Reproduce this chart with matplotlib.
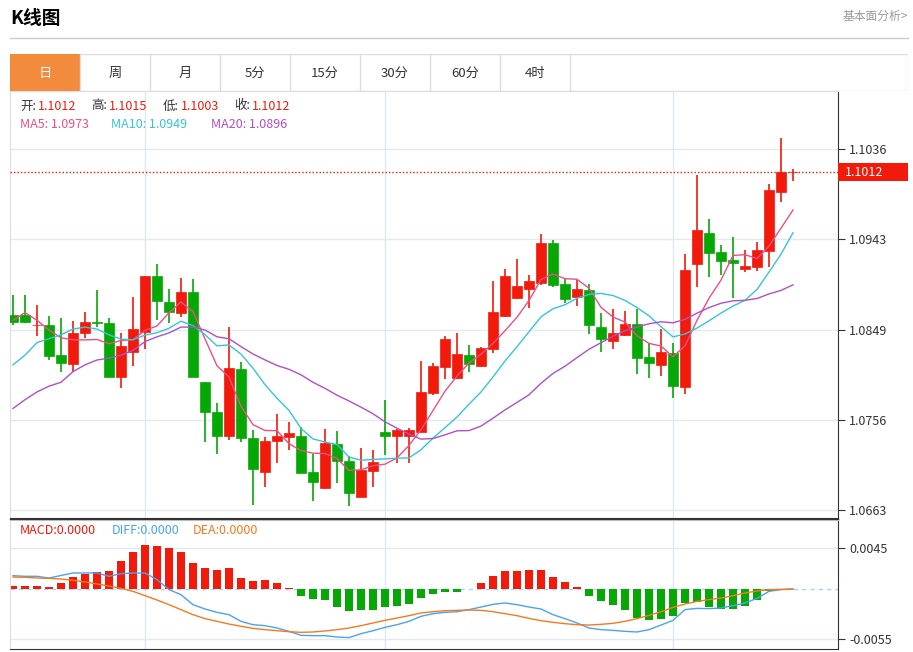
import numpy as np
import pandas as pd
import matplotlib.pyplot as plt
from matplotlib.patches import Rectangle

plt.rcParams['font.family'] = ['Noto Sans CJK SC', 'DejaVu Sans']

# 日K数据
opens = [1.0865, 1.0865, 1.0854, 1.0854, 1.0823, 1.0814, 1.0846, 1.0857, 1.0856, 1.0800,
         1.0826, 1.0847, 1.0905, 1.0878, 1.0867, 1.0888, 1.0795, 1.0764, 1.0740, 1.0809,
         1.0737, 1.0702, 1.0734, 1.0738, 1.0739, 1.0702, 1.0686, 1.0731, 1.0714, 1.0677,
         1.0703, 1.0744, 1.0739, 1.0739, 1.0744, 1.0784, 1.0811, 1.0799, 1.0823, 1.0812,
         1.0829, 1.0863, 1.0882, 1.0891, 1.0898, 1.0939, 1.0897, 1.0883, 1.0890, 1.0852,
         1.0838, 1.0844, 1.0855, 1.0821, 1.0813, 1.0825, 1.0790, 1.0917, 1.0949, 1.0930,
         1.0921, 1.0912, 1.0914, 1.0931, 1.0992, 1.1012]
closes = [1.0857, 1.0857, 1.0854, 1.0822, 1.0815, 1.0846, 1.0857, 1.0856, 1.0800, 1.0832,
          1.0850, 1.0905, 1.0879, 1.0868, 1.0888, 1.0800, 1.0764, 1.0740, 1.0810, 1.0737,
          1.0705, 1.0734, 1.0739, 1.0743, 1.0701, 1.0692, 1.0732, 1.0714, 1.0681, 1.0704,
          1.0713, 1.0740, 1.0746, 1.0746, 1.0785, 1.0812, 1.0840, 1.0824, 1.0814, 1.0830,
          1.0868, 1.0905, 1.0894, 1.0900, 1.0939, 1.0896, 1.0881, 1.0891, 1.0854, 1.0840,
          1.0846, 1.0855, 1.0820, 1.0815, 1.0826, 1.0791, 1.0911, 1.0952, 1.0929, 1.0920,
          1.0918, 1.0915, 1.0932, 1.0994, 1.1012, 1.1012]
highs = [1.0885, 1.0885, 1.0875, 1.0863, 1.0861, 1.0858, 1.0868, 1.0890, 1.0861, 1.0846,
         1.0883, 1.0905, 1.0917, 1.0891, 1.0903, 1.0902, 1.0795, 1.0774, 1.0852, 1.0816,
         1.0746, 1.0738, 1.0762, 1.0754, 1.0749, 1.0721, 1.0747, 1.0745, 1.0719, 1.0727,
         1.0725, 1.0777, 1.0747, 1.0748, 1.0817, 1.0815, 1.0843, 1.0846, 1.0833, 1.0831,
         1.0900, 1.0912, 1.0922, 1.0906, 1.0948, 1.0942, 1.0902, 1.0901, 1.0897, 1.0867,
         1.0871, 1.0869, 1.0871, 1.0836, 1.0850, 1.0836, 1.0928, 1.1009, 1.0964, 1.0937,
         1.0945, 1.0932, 1.0940, 1.1000, 1.1047, 1.1015]
lows = [1.0854, 1.0856, 1.0843, 1.0818, 1.0806, 1.0806, 1.0841, 1.0852, 1.0800, 1.0789,
        1.0812, 1.0829, 1.0859, 1.0856, 1.0862, 1.0800, 1.0733, 1.0721, 1.0735, 1.0733,
        1.0668, 1.0687, 1.0712, 1.0725, 1.0701, 1.0672, 1.0685, 1.0691, 1.0667, 1.0676,
        1.0687, 1.0720, 1.0712, 1.0712, 1.0744, 1.0782, 1.0798, 1.0798, 1.0806, 1.0811,
        1.0825, 1.0862, 1.0881, 1.0872, 1.0896, 1.0893, 1.0877, 1.0874, 1.0845, 1.0826,
        1.0829, 1.0843, 1.0804, 1.0799, 1.0802, 1.0779, 1.0783, 1.0893, 1.0904, 1.0906,
        1.0882, 1.0909, 1.0910, 1.0914, 1.0981, 1.1003]

# 均线在窗口不足时的读图值
ma5_head = [1.0859, 1.0867, 1.0859, 1.0849]
ma10_head = [1.0813, 1.0823, 1.0836, 1.0840, 1.0844, 1.0850, 1.0852, 1.0850, 1.0844]
ma20_head = [1.0768, 1.0777, 1.0785, 1.0791, 1.0795, 1.0806, 1.0813, 1.0818, 1.0820, 1.0823,
             1.0828, 1.0837, 1.0842, 1.0846, 1.0852, 1.0852, 1.0849, 1.0842, 1.0840]

# MACD (读图估计, 单位 1e-5)
hist = [37, 37, 30, 18, 63, 133, 170, 192, 204, 315, 410, 492, 474, 451, 414, 285, 233, 215,
        237, 126, 89, 100, 63, 7, -81, -111, -126, -200, -248, -237, -229, -204, -192, -167,
        -100, -55, -30, -37, -5, 67, 148, 200, 200, 215, 215, 130, 74, 22, -74, -133, -178,
        -233, -318, -340, -333, -303, -155, -144, -204, -226, -222, -192, -118, -20, -5, 0]
diff = [148, 141, 141, 122, 150, 178, 178, 178, 141, 170, 178, 178, 104, -7, -63, -174, -222,
        -259, -285, -359, -396, -407, -433, -470, -514, -518, -518, -533, -540, -496, -463,
        -426, -396, -359, -303, -274, -259, -252, -229, -200, -170, -155, -174, -200, -222,
        -285, -329, -377, -433, -451, -459, -470, -477, -451, -400, -348, -229, -215, -218,
        -211, -185, -155, -104, -26, -7, 0]
dea = [133, 130, 122, 118, 111, 96, 78, 56, 33, 7, -26, -74, -122, -174, -229, -285, -329,
       -359, -389, -414, -437, -451, -463, -474, -481, -477, -466, -451, -433, -407, -377,
       -348, -322, -296, -266, -252, -241, -237, -233, -237, -252, -274, -296, -326, -352,
       -370, -385, -396, -400, -392, -381, -359, -329, -292, -252, -204, -167, -137, -118,
       -100, -74, -44, -22, -7, -4, 0]

price_ticks = [1.1036, 1.0943, 1.0849, 1.0756, 1.0663]
macd_ticks = [0.0045, -0.0055]
tabs = ['日', '周', '月', '5分', '15分', '30分', '60分', '4时']

RED = '#f21a0a'
GREEN = '#05a805'
W, H = 913, 652

n = len(closes)
x = np.arange(n)
cs = pd.Series(closes)


def ma(win, head):
    m = cs.rolling(win).mean().to_numpy()
    m[:len(head)] = head
    return m


ma5, ma10, ma20 = ma(5, ma5_head), ma(10, ma10_head), ma(20, ma20_head)

fig = plt.figure(figsize=(W / 100, H / 100), dpi=100)


def box(l, t, r, b):
    return [l / W, 1 - b / H, (r - l) / W, (b - t) / H]


# 标题与标签页
fig.text(10 / W, 1 - 18 / H, 'K线图', fontsize=13.5, fontweight='bold', va='center')
fig.text(908 / W, 1 - 16 / H, '基本面分析>', fontsize=8.5, color='#999999', va='center', ha='right')
fig.add_artist(plt.Line2D([10 / W, 908 / W], [1 - 38 / H] * 2, color='#cccccc', lw=1))
tab_ax = fig.add_axes(box(10, 54, 908, 91))
tab_ax.set_xlim(10, 908)
tab_ax.set_ylim(91, 54)
tab_ax.axis('off')
tab_ax.add_patch(Rectangle((10, 54), 898, 37, fc='white', ec='#dddddd', lw=1))
for i, t in enumerate(tabs):
    x0 = 10 + 70 * i
    if i == 0:
        tab_ax.add_patch(Rectangle((x0, 54), 70, 37, fc='#f28c3c', ec='none'))
    tab_ax.plot([x0 + 70] * 2, [54, 91], color='#dddddd', lw=1)
    tab_ax.text(x0 + 35, 73, t, ha='center', va='center', fontsize=9.5,
                color='white' if i == 0 else '#333333')

# 主图
ax = fig.add_axes(box(10, 91, 838, 518))
ax.set_xlim(-0.25, 68.75)
ax.set_ylim(1.06548, 1.10959)
for yv in price_ticks:
    ax.axhline(yv, color='#e3e9f0', lw=1, zorder=0)
for xv in [11, 31, 55]:
    ax.axvline(xv, color='#dce8f2', lw=1, zorder=0)
for i in range(n):
    o, c, h, l = opens[i], closes[i], highs[i], lows[i]
    col = RED if c >= o else GREEN
    ax.vlines(x[i], l, h, color=col, lw=1.2, zorder=2)
    ax.add_patch(Rectangle((x[i] - 0.38, min(o, c)), 0.76, max(abs(c - o), 0.00004),
                           fc=col, ec=col, lw=0.5, zorder=3))
ax.plot(x, ma5, color='#ec4f86', lw=1, zorder=4)
ax.plot(x, ma10, color='#37c4d8', lw=1, zorder=4)
ax.plot(x, ma20, color='#b14fc7', lw=1, zorder=4)
ax.axhline(closes[-1], color=RED, lw=1, ls=(0, (1, 1.5)), zorder=5)
ax.set_xticks([])
ax.yaxis.tick_right()
ax.set_yticks(price_ticks)
ax.set_yticklabels([f'{v:.4f}' for v in price_ticks], fontsize=9, color='#333333')
ax.tick_params(axis='y', length=5, color='#333333', pad=3)
for s in ['top', 'left']:
    ax.spines[s].set_color('#dddddd')
ax.spines['right'].set_color('#333333')
ax.spines['bottom'].set_color('#333333')
tr = ax.get_yaxis_transform()
ax.add_patch(Rectangle((1.0, closes[-1] - 0.00092), 70 / 828, 0.00184, transform=tr,
                       fc=RED, ec='none', clip_on=False, zorder=6))
ax.text(1.0 + 7 / 828, closes[-1], f'{closes[-1]:.4f}', transform=tr, fontsize=9,
        color='white', va='center', ha='left', clip_on=False, zorder=7)

# 图例文字
for lab, val, px in [('开:', opens[-1], 20), ('高:', highs[-1], 91), ('低:', lows[-1], 163), ('收:', closes[-1], 234)]:
    fig.text(px / W, 1 - 106 / H, lab, fontsize=9, color='#333333', va='center')
    fig.text((px + 18) / W, 1 - 106 / H, f'{val:.4f}', fontsize=9, color=RED, va='center')
fig.text(20 / W, 1 - 125 / H, f'MA5: {ma5[-1]:.4f}', fontsize=9, color='#ec4f86', va='center')
fig.text(111 / W, 1 - 125 / H, f'MA10: {ma10[-1]:.4f}', fontsize=9, color='#37c4d8', va='center')
fig.text(211 / W, 1 - 125 / H, f'MA20: {ma20[-1]:.4f}', fontsize=9, color='#b14fc7', va='center')

# MACD 副图
mx = fig.add_axes(box(10, 520, 838, 649))
mx.set_xlim(-0.25, 68.75)
mx.set_ylim(-0.00666, 0.00766)
h = np.array(hist) * 1e-5
for yv in macd_ticks:
    mx.axhline(yv, color='#e3e9f0', lw=1, zorder=0)
for xv in [11, 31, 55]:
    mx.axvline(xv, color='#dce8f2', lw=1, zorder=0)
mx.axhline(0, color='#a9d4ec', lw=1, ls=(0, (3, 3)), zorder=1)
mx.bar(x, h, width=0.7, color=[RED if v >= 0 else GREEN for v in h], zorder=2)
mx.plot(x, np.array(diff) * 1e-5, color='#4aa3f0', lw=1, zorder=3)
mx.plot(x, np.array(dea) * 1e-5, color='#f47a20', lw=1, zorder=3)
mx.set_xticks([])
mx.yaxis.tick_right()
mx.set_yticks(macd_ticks)
mx.set_yticklabels([f'{v:.4f}' for v in macd_ticks], fontsize=9, color='#333333')
mx.tick_params(axis='y', length=5, color='#333333', pad=3)
for s in ['top', 'left']:
    mx.spines[s].set_color('#dddddd')
mx.spines['right'].set_color('#333333')
mx.spines['bottom'].set_color('#333333')
fig.text(20 / W, 1 - 530 / H, f'MACD:{hist[-1] * 1e-5:.4f}', fontsize=9, color=RED, va='center')
fig.text(112 / W, 1 - 530 / H, f'DIFF:{diff[-1] * 1e-5:.4f}', fontsize=9, color='#4aa3f0', va='center')
fig.text(193 / W, 1 - 530 / H, f'DEA:{dea[-1] * 1e-5:.4f}', fontsize=9, color='#f47a20', va='center')
fig.add_artist(plt.Line2D([10 / W, 838 / W], [1 - 519 / H] * 2, color='#333333', lw=1))

fig.savefig('out.png', dpi=100)
